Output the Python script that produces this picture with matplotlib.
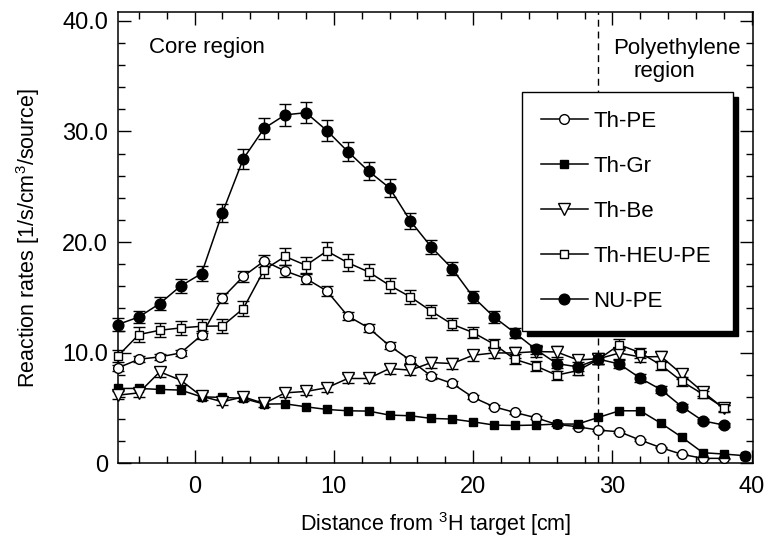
import numpy as np
import matplotlib
matplotlib.use("Agg")
import matplotlib.pyplot as plt
from matplotlib.ticker import MultipleLocator, FuncFormatter

plt.rcParams['font.family'] = ['Liberation Sans', 'DejaVu Sans']
plt.rcParams['mathtext.default'] = 'regular'

# distance from 3H target [cm]
dist = [-5.5, -4.0, -2.5, -1.0, 0.5, 2.0, 3.5, 5.0, 6.5, 8.0, 9.5, 11.0, 12.5, 14.0, 15.5,
        17.0, 18.5, 20.0, 21.5, 23.0, 24.5, 26.0, 27.5, 29.0, 30.5, 32.0, 33.5, 35.0,
        36.5, 38.0, 39.5]

th_pe = [8.63, 9.41, 9.62, 9.98, 11.58, 14.95, 16.9, 18.29, 17.39, 16.7, 15.58, 13.32,
         12.24, 10.62, 9.32, 7.88, 7.22, 5.96, 5.11, 4.6, 4.12, 3.52, 3.31, 3.0, 2.85,
         2.1, 1.41, 0.81, 0.45, 0.45]
th_pe_err = [0.26, 0.28, 0.29, 0.3, 0.35, 0.45, 0.5, 0.55, 0.52, 0.5, 0.47, 0.4, 0.37,
             0.32, 0.28, 0.24, 0.22, 0.18, 0.15, 0.14, 0.12, 0.11, 0.1, 0.09, 0.09, 0.07,
             0.05, 0.03, 0.02, 0.02]

th_gr = [6.77, 6.77, 6.68, 6.62, 6.01, 5.96, 5.87, 5.35, 5.38, 5.11, 4.87, 4.75, 4.72,
         4.36, 4.3, 4.06, 4.0, 3.75, 3.46, 3.42, 3.46, 3.55, 3.55, 4.15, 4.75, 4.75, 3.61,
         2.35, 0.96, 0.84, 0.69]

th_be = [6.16, 6.37, 8.27, 7.52, 6.07, 5.56, 6.01, 5.41, 6.37, 6.5, 6.83, 7.67, 7.67,
         8.57, 8.42, 9.11, 9.02, 9.77, 9.98, 9.98, 10.1, 10.07, 9.35, 9.45, 9.97, 9.62,
         9.65, 8.05, 6.46, 4.96]
th_be_err = [0.35, 0.35, 0.45, 0.4, 0.35, 0.3, 0.35, 0.3, 0.35, 0.35, 0.38, 0.42, 0.42,
             0.45, 0.45, 0.48, 0.48, 0.5, 0.5, 0.5, 0.5, 0.5, 0.48, 0.48, 0.5, 0.48, 0.48,
             0.42, 0.35, 0.28]

th_heu_pe = [9.71, 11.64, 12.03, 12.24, 12.39, 12.42, 13.99, 17.5, 18.7, 17.9, 19.19,
             18.14, 17.3, 16.09, 15.04, 13.75, 12.57, 11.82, 10.77, 9.4, 8.8, 7.97, 8.38,
             9.4, 10.72, 10.0, 8.87, 7.4, 6.25, 5.02]
th_heu_pe_err = [0.55, 0.65, 0.65, 0.65, 0.65, 0.65, 0.7, 0.75, 0.8, 0.75, 0.8, 0.75, 0.7,
                 0.65, 0.6, 0.58, 0.55, 0.52, 0.5, 0.45, 0.42, 0.4, 0.42, 0.45, 0.5, 0.45,
                 0.42, 0.38, 0.32, 0.28]

nu_pe = [12.55, 13.23, 14.44, 16.03, 17.15, 22.65, 27.53, 30.29, 31.5, 31.7, 30.08, 28.19,
         26.41, 24.9, 21.9, 19.55, 17.6, 15.04, 13.23, 11.79, 10.3, 9.02, 8.72, 9.42, 8.98,
         7.7, 6.65, 5.11, 3.84, 3.46]
nu_pe_err = [0.55, 0.57, 0.6, 0.62, 0.65, 0.8, 0.9, 0.93, 0.96, 0.96, 0.93, 0.87, 0.82,
             0.78, 0.7, 0.65, 0.6, 0.55, 0.5, 0.45, 0.42, 0.4, 0.4, 0.42, 0.4, 0.35, 0.3,
             0.25, 0.2, 0.2]

boundary = 29.0

fig = plt.figure(figsize=(7.7, 5.39), dpi=100)
ax = fig.add_axes([0.1532, 0.1404, 0.8248, 0.8373])

lw = 1.1
mew = 1.0


def draw(y, err, marker, ms, fc, label):
    x = dist[:len(y)]
    line, = ax.plot(x, y, ls='-', lw=lw, color='k', marker=marker, ms=ms,
                    mfc=fc, mec='k', mew=mew, label=label, zorder=3, clip_on=False)
    if err is not None:
        eb = ax.errorbar(x, y, yerr=err, fmt='none', ecolor='k', elinewidth=1.0,
                         capsize=4.3, capthick=1.0, zorder=2)
        for art in eb.lines[1] + eb.lines[2]:
            art.set_clip_on(False)
    return line


h1 = draw(th_pe, th_pe_err, 'o', 7, 'white', 'Th-PE')
h2 = draw(th_gr, None, 's', 5.3, 'black', 'Th-Gr')
ax.plot(dist[len(th_gr) - 1], th_gr[-1], marker='o', ms=7.5, mfc='k', mec='k', zorder=3,
        clip_on=False)
h3 = draw(th_be, th_be_err, 'v', 8.5, 'white', 'Th-Be')
h4 = draw(th_heu_pe, th_heu_pe_err, 's', 6, 'white', 'Th-HEU-PE')
h5 = draw(nu_pe, nu_pe_err, 'o', 7.7, 'black', 'NU-PE')

ax.axvline(boundary, color='k', lw=1.0, ls=(0, (5, 3.5)), zorder=1)

ax.set_xlim(-5.5, 40.1)
ax.set_ylim(0, 40.8)
ax.xaxis.set_major_locator(MultipleLocator(10))
ax.xaxis.set_minor_locator(MultipleLocator(2))
ax.yaxis.set_major_locator(MultipleLocator(10))
ax.yaxis.set_minor_locator(MultipleLocator(2))
ax.yaxis.set_major_formatter(FuncFormatter(lambda v, p: '0' if v == 0 else f'{v:.1f}'))
ax.xaxis.set_major_formatter(FuncFormatter(lambda v, p: f'{v:.0f}'))
ax.tick_params(which='both', direction='in', top=True, right=True, width=1.0)
ax.tick_params(which='major', length=9.5, labelsize=17, pad=7)
ax.tick_params(axis='x', which='major', pad=9)
ax.tick_params(which='minor', length=4.8)
for s in ax.spines.values():
    s.set_linewidth(1.1)

ax.set_xlabel('Distance from $^{3}$H target [cm]', fontsize=15.5, labelpad=9)
ax.set_ylabel('Reaction rates [1/s/cm$^{3}$/source]', fontsize=15.5, labelpad=15)

ax.text(-3.24, 37.6, 'Core region', fontsize=16, ha='left', va='center')
ax.text(30.07, 37.5, 'Polyethylene', fontsize=16, ha='left', va='center')
ax.text(31.55, 35.4, 'region', fontsize=16, ha='left', va='center')

leg = ax.legend(handles=[h1, h2, h3, h4, h5], loc='upper left', mode='expand',
                bbox_to_anchor=(522 / 770, 1 - 331 / 539, 211 / 770, 239 / 539),
                bbox_transform=fig.transFigure,
                borderaxespad=0, fontsize=16, numpoints=1, handlelength=2.1,
                handletextpad=0.25, labelspacing=1.08, borderpad=0.85, fancybox=False,
                framealpha=1, edgecolor='k',
                shadow={'ox': 3.5, 'oy': -3.5, 'facecolor': 'k', 'edgecolor': 'k', 'alpha': 1})
leg.get_frame().set_linewidth(1.0)
leg.set_zorder(5)

fig.savefig('out.png', dpi=100)
